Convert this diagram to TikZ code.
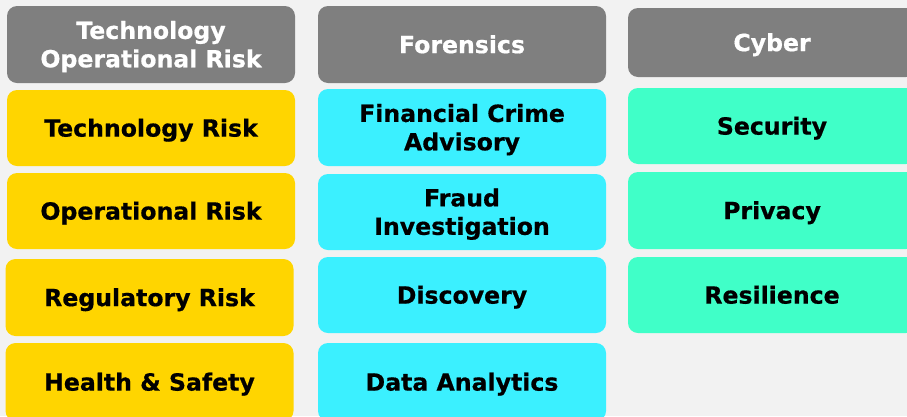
\documentclass[tikz,border=0pt]{standalone}
\usepackage{fontspec}
\setmainfont{DejaVu Sans}[BoldFeatures={FakeBold=0.6}]
\definecolor{bgc}{HTML}{F2F2F2}
\definecolor{hdrc}{HTML}{7F7F7F}
\definecolor{ylw}{HTML}{FFD500}
\definecolor{cyn}{HTML}{3BF0FF}
\definecolor{grn}{HTML}{40FFC8}
\tikzset{
  box/.style={rounded corners=10pt, inner sep=0pt, minimum width=288pt, align=center,
    font=\fontsize{23.6}{28.4}\selectfont\bfseries, text height=17.2pt, text depth=-2pt},
  two/.style={text height=45.6pt, text depth=-2pt},
  hdr/.style={box, fill=hdrc, text=white},
  yb/.style={box, fill=ylw, text=black, minimum height=76pt},
  cb/.style={box, fill=cyn, text=black, minimum height=76pt},
  gb/.style={box, fill=grn, text=black, minimum height=76pt},
}
\begin{document}
\begin{tikzpicture}[x=1pt,y=-1pt]
\useasboundingbox (0,0) rectangle (907,416);
\fill[bgc] (0,0) rectangle (907,416);
\clip (0,0) rectangle (907,416);
% column 1
\node[hdr, two, minimum height=77pt] (h1) at (151,44.5) {Technology\\Operational Risk};
\node[yb] (tr) at (151,128) {Technology Risk};
\node[yb] (or) at (151,211) {Operational Risk};
\node[yb, minimum height=77pt] (rr) at (149.5,297.5) {Regulatory Risk};
\node[yb, minimum height=78pt] (hs) at (149.5,382) {Health \& Safety};
% column 2
\node[hdr, minimum height=77pt] (h2) at (462,44.5) {Forensics};
\node[cb, two, minimum height=77pt] (fc) at (462,127.5) {Financial Crime\\Advisory};
\node[cb, two] (fi) at (462,212) {Fraud\\Investigation};
\node[cb] (di) at (462,295) {Discovery};
\node[cb, minimum height=78pt] (da) at (462,382) {Data Analytics};
% column 3
\node[hdr, minimum height=69pt] (h3) at (772,42.5) {Cyber};
\node[gb] (se) at (772,126) {Security};
\node[gb, minimum height=77pt] (pr) at (772,210.5) {Privacy};
\node[gb] (re) at (772,295) {Resilience};
\end{tikzpicture}
\end{document}
